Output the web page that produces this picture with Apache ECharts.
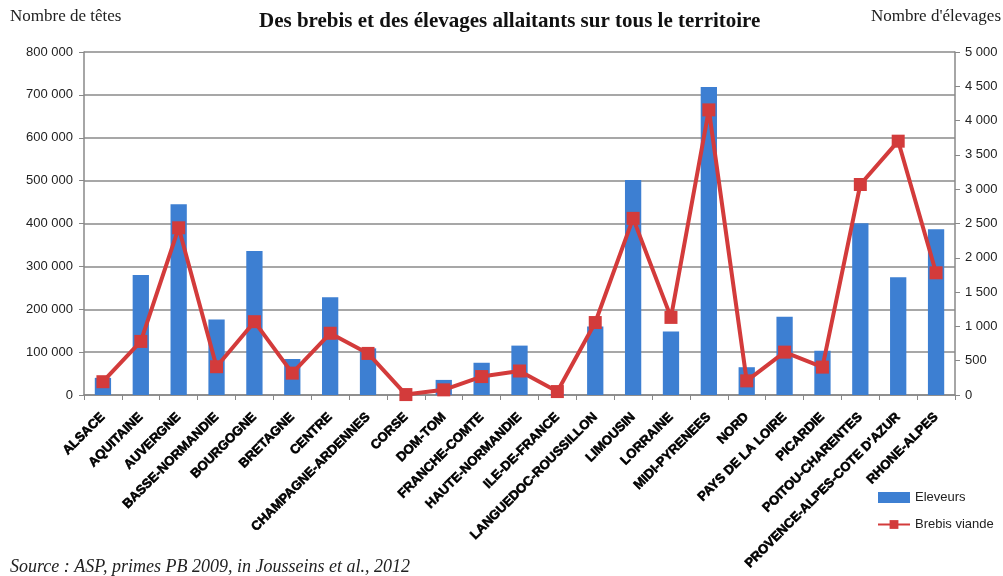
<!DOCTYPE html>
<html>
<head>
<meta charset="utf-8">
<script src="https://cdn.jsdelivr.net/npm/echarts@6/dist/echarts.min.js"></script>
<style>
  html, body { margin: 0; padding: 0; background: #fff; }
  #chart { width: 1003px; height: 576px; }
</style>
</head>
<body>
<div id="chart"></div>
<script>
// regions (x axis)
var regions = ['ALSACE', 'AQUITAINE', 'AUVERGNE', 'BASSE-NORMANDIE', 'BOURGOGNE', 'BRETAGNE',
  'CENTRE', 'CHAMPAGNE-ARDENNES', 'CORSE', 'DOM-TOM', 'FRANCHE-COMTE', 'HAUTE-NORMANDIE',
  'ILE-DE-FRANCE', 'LANGUEDOC-ROUSSILLON', 'LIMOUSIN', 'LORRAINE', 'MIDI-PYRENEES', 'NORD',
  'PAYS DE LA LOIRE', 'PICARDIE', 'POITOU-CHARENTES', "PROVENCE-ALPES-COTE D'AZUR", 'RHONE-ALPES'];

// nombre d'élevages (axe droit)
var eleveurs = [250, 1750, 2780, 1100, 2100, 525, 1425, 680, 0, 220, 470, 720,
  8, 1000, 3135, 925, 4490, 405, 1140, 645, 2505, 1715, 2415];

// nombre de têtes (axe gauche)
var brebis = [31000, 125000, 390000, 66000, 171000, 51000, 144000, 97000, 1000, 12000, 43000, 56000,
  8000, 169000, 412000, 181000, 665000, 33000, 100000, 65000, 491000, 592000, 285000];

var leftTicks = { min: 0, max: 800000, step: 100000 };
var rightTicks = { min: 0, max: 5000, step: 500 };

function fmt(v) {
  return String(v).replace(/\B(?=(\d{3})+(?!\d))/g, ' ');
}

var chart = echarts.init(document.getElementById('chart'));
var option = {
  animation: false,
  backgroundColor: '#fff',
  title: {
    text: 'Des brebis et des élevages allaitants sur tous le territoire',
    left: 254,
    top: 6,
    textStyle: { fontFamily: 'Liberation Serif', fontWeight: 'bold', fontSize: 21, color: '#111' }
  },
  graphic: [
    { type: 'text', left: 10, top: 8, style: { text: 'Nombre de têtes', font: '17px "Liberation Serif"', fill: '#222' } },
    { type: 'text', right: 2, top: 8, style: { text: "Nombre d'élevages", font: '17px "Liberation Serif"', fill: '#222' } },
    { type: 'text', left: 10, top: 558, style: { text: 'Source : ASP, primes PB 2009, in Jousseins et al., 2012', font: 'italic 18px "Liberation Serif"', fill: '#222' } }
  ],
  legend: {
    orient: 'vertical',
    left: 872,
    top: 486,
    itemGap: 14,
    itemWidth: 32,
    itemHeight: 11,
    textStyle: { fontFamily: 'Liberation Sans', fontSize: 13, color: '#222' },
    data: [{ name: 'Eleveurs', icon: 'rect' }, { name: 'Brebis viande' }]
  },
  grid: { left: 84, right: 48, top: 52, bottom: 181 },
  xAxis: {
    type: 'category',
    data: regions,
    axisLine: { lineStyle: { color: '#888', width: 1.5 } },
    axisTick: { show: true, length: 5, lineStyle: { color: '#888' } },
    axisLabel: {
      rotate: 45,
      interval: 0,
      margin: 20,
      color: '#000',
      fontFamily: 'Liberation Sans',
      fontWeight: 'bold',
      fontSize: 13,
      textBorderColor: '#000',
      textBorderWidth: 0.6
    }
  },
  yAxis: [
    {
      type: 'value',
      min: leftTicks.min, max: leftTicks.max, interval: leftTicks.step,
      axisLine: { show: true, lineStyle: { color: '#888', width: 1.5 } },
      axisTick: { show: true, length: 5, lineStyle: { color: '#888' } },
      splitLine: { lineStyle: { color: '#8a8a8a', width: 1.5 } },
      axisLabel: { formatter: fmt, color: '#222', fontFamily: 'Liberation Sans', fontSize: 13, margin: 11 }
    },
    {
      type: 'value',
      min: rightTicks.min, max: rightTicks.max, interval: rightTicks.step,
      axisLine: { show: true, lineStyle: { color: '#888', width: 1.5 } },
      axisTick: { show: true, length: 5, lineStyle: { color: '#888' } },
      splitLine: { show: false },
      axisLabel: { formatter: fmt, color: '#222', fontFamily: 'Liberation Sans', fontSize: 13, margin: 10 }
    }
  ],
  series: [
    {
      name: 'Eleveurs',
      type: 'bar',
      yAxisIndex: 1,
      data: eleveurs,
      barWidth: '43%',
      itemStyle: { color: '#3d7fd2' }
    },
    {
      name: 'Brebis viande',
      type: 'line',
      yAxisIndex: 0,
      data: brebis,
      symbol: 'rect',
      symbolSize: 13,
      lineStyle: { color: '#d33b3b', width: 4 },
      itemStyle: { color: '#d33b3b' }
    }
  ]
};
chart.setOption(option);
</script>
</body>
</html>
